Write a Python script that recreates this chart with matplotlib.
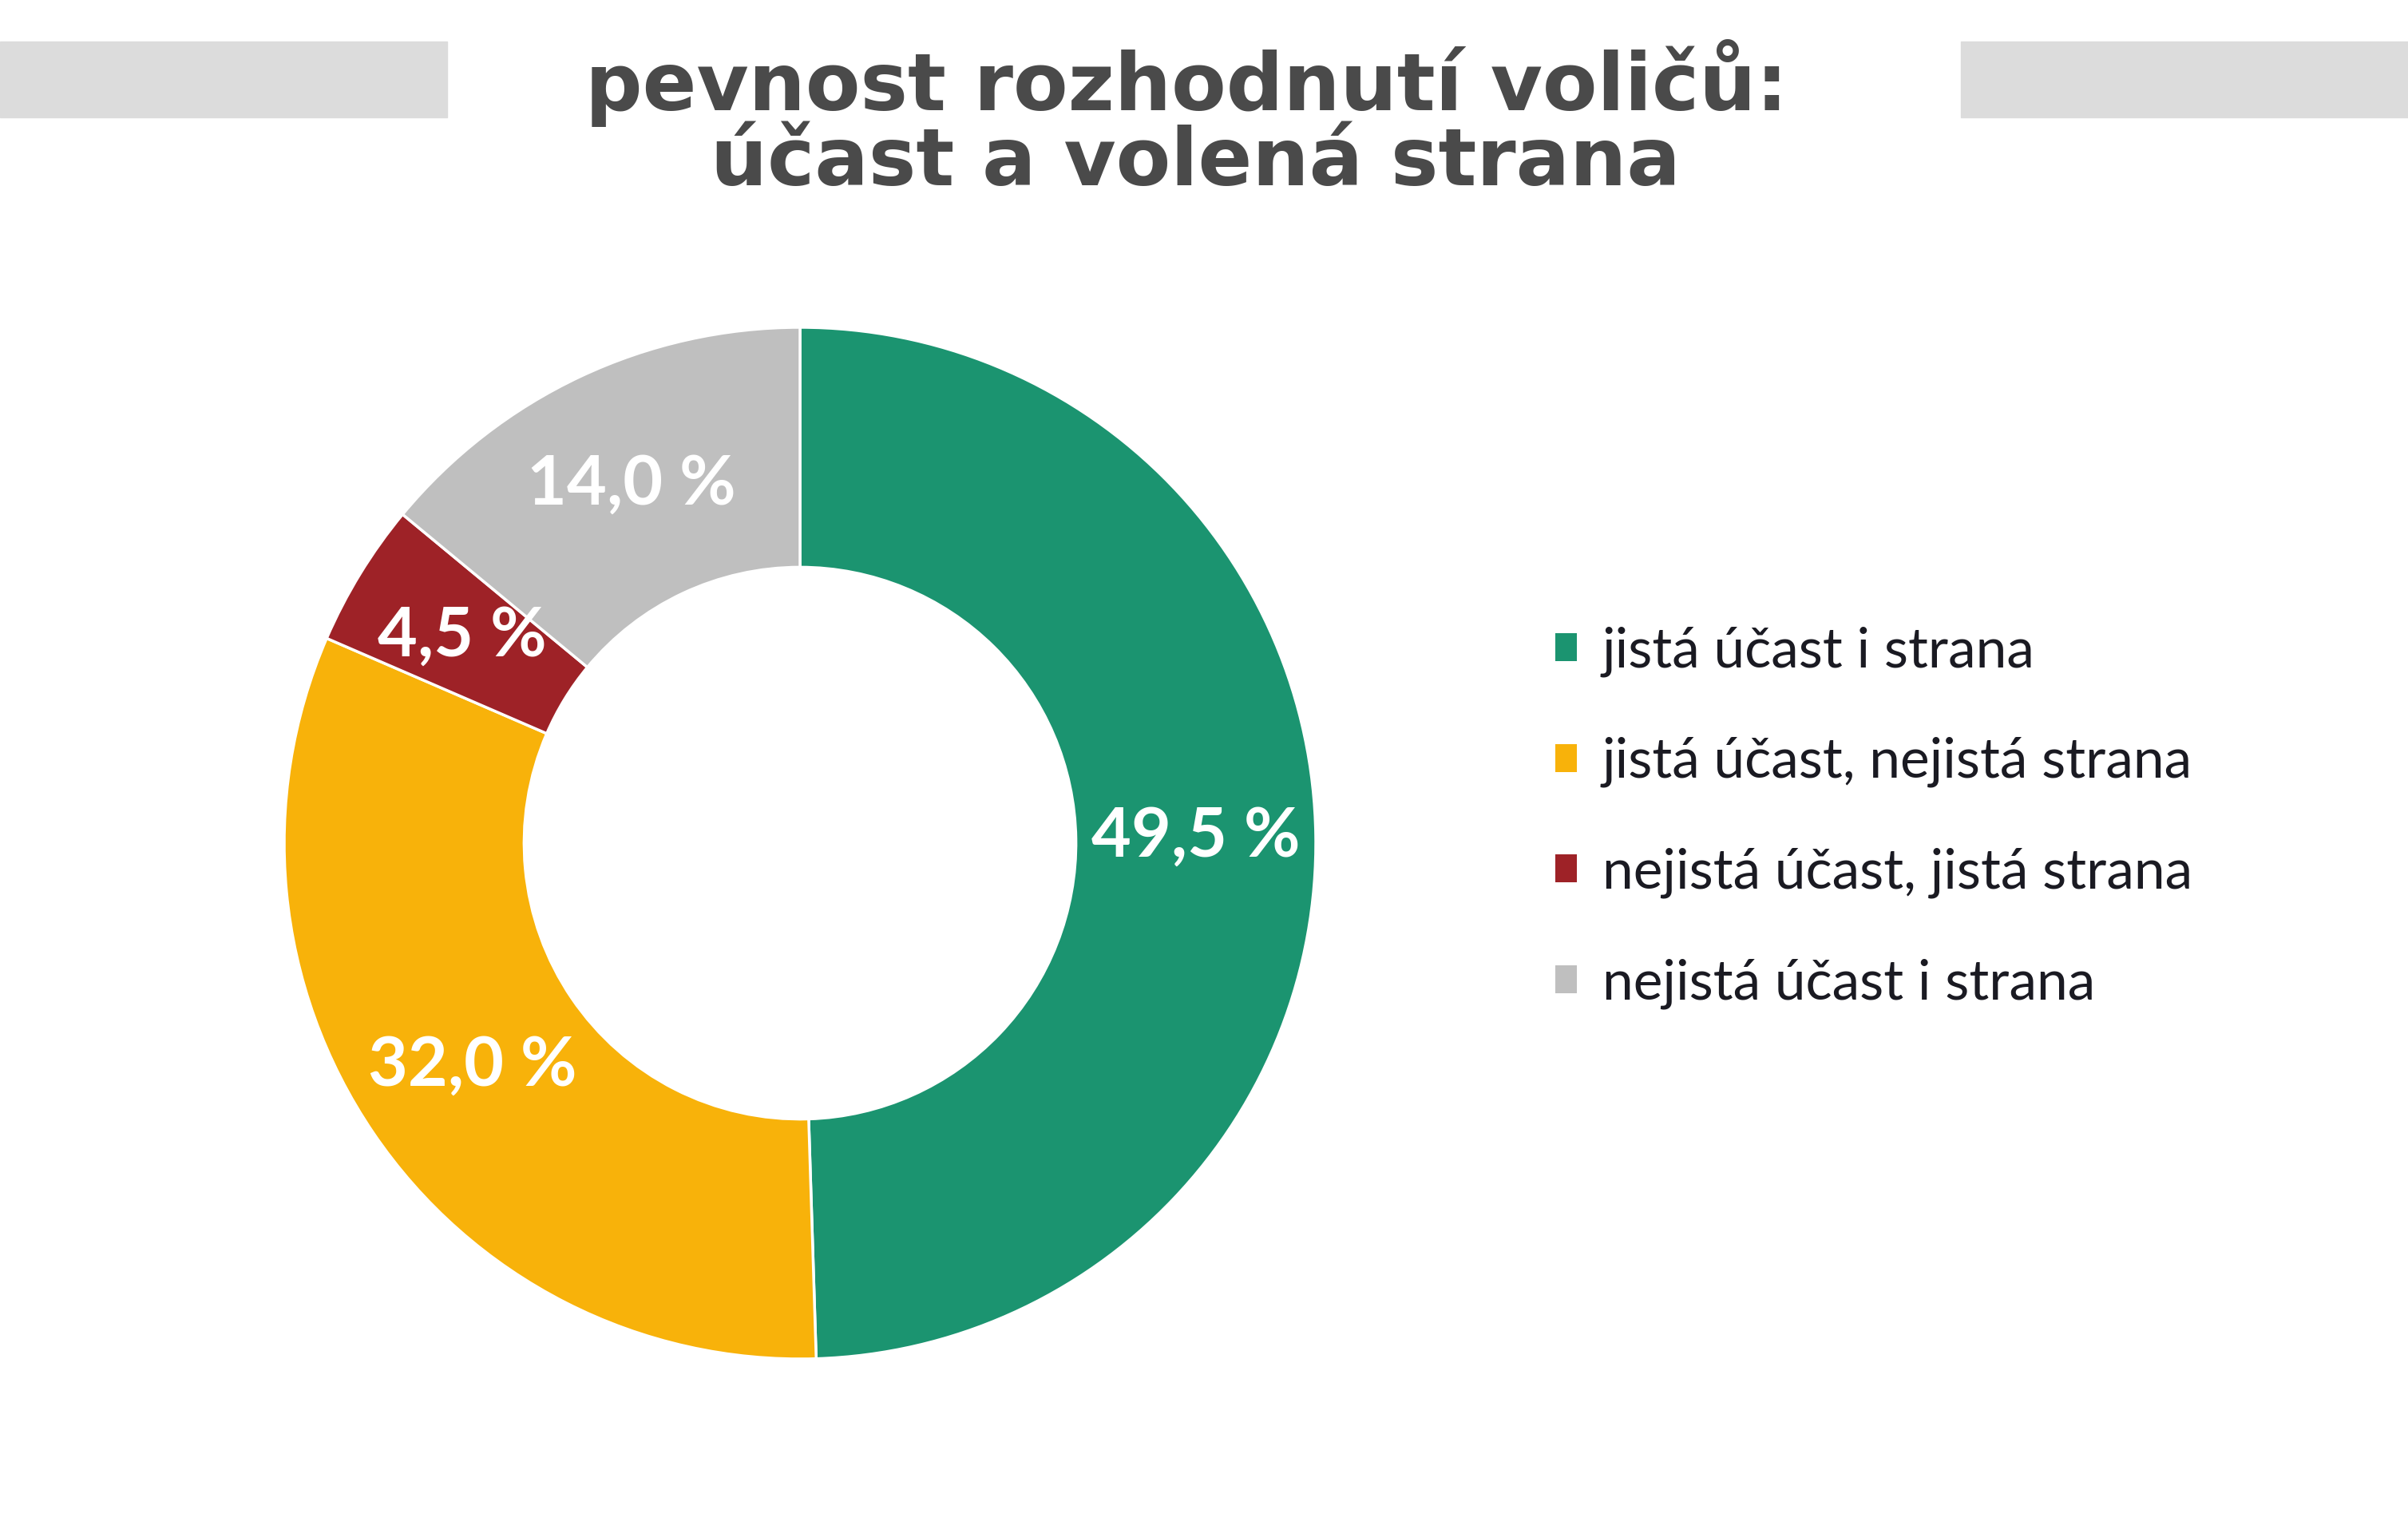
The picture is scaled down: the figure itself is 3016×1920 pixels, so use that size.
import matplotlib.pyplot as plt
from matplotlib.patches import Patch, Rectangle

# data
categories = ['jistá účast i strana', 'jistá účast, nejistá strana',
              'nejistá účast, jistá strana', 'nejistá účast i strana']
shares = [49.5, 32.0, 4.5, 14.0]
colors = ['#1b9470', '#f8b20a', '#9e2227', '#bfbfbf']
title_lines = ['pevnost rozhodnutí voličů:', 'účast a volená strana']

W, H = 3016, 1920
fig = plt.figure(figsize=(W / 100, H / 100), dpi=100)
fig.patch.set_facecolor('white')

# grey bars either side of the title
fig.patches.append(Rectangle((0, 1 - 147 / H), 560 / W, 95 / H,
                             transform=fig.transFigure, color='#dcdcdc', zorder=0))
fig.patches.append(Rectangle((2456 / W, 1 - 147 / H), 560 / W, 95 / H,
                             transform=fig.transFigure, color='#dcdcdc', zorder=0))

fig.text(1486 / W, 1 - 138 / H, title_lines[0], ha='center', va='baseline',
         fontsize=72, fontweight='heavy', color='#4a4a4a', family='DejaVu Sans')
fig.text(1497 / W, 1 - 232 / H, title_lines[1], ha='center', va='baseline',
         fontsize=72, fontweight='heavy', color='#4a4a4a', family='DejaVu Sans')

# donut
cx, cy, r = 1002, 1056, 646
ax = fig.add_axes([(cx - r) / W, (H - cy - r) / H, 2 * r / W, 2 * r / H])
wedges, _, autotexts = ax.pie(
    shares, colors=colors, startangle=90, counterclock=False, radius=1,
    autopct=lambda p: f'{p:.1f} %'.replace('.', ','), pctdistance=0.768,
    wedgeprops=dict(width=0.465, edgecolor='white', linewidth=2.5),
    textprops=dict(color='white', fontsize=62, fontweight='bold', family='Lato'))
ax.set_xlim(-1, 1)
ax.set_ylim(-1, 1)
ax.set_aspect('equal')
ax.axis('off')

handles = [Patch(facecolor=c, edgecolor='none') for c in colors]
fig.legend(handles, categories, loc='upper left',
           bbox_to_anchor=(1885 / W, 1 - 722 / H), frameon=False,
           prop=dict(family='Lato', size=50), labelcolor='#1a1a22',
           handlelength=0.4, handleheight=0.4, handletextpad=0.45,
           labelspacing=1.08)

fig.savefig('out.png', dpi=100)
